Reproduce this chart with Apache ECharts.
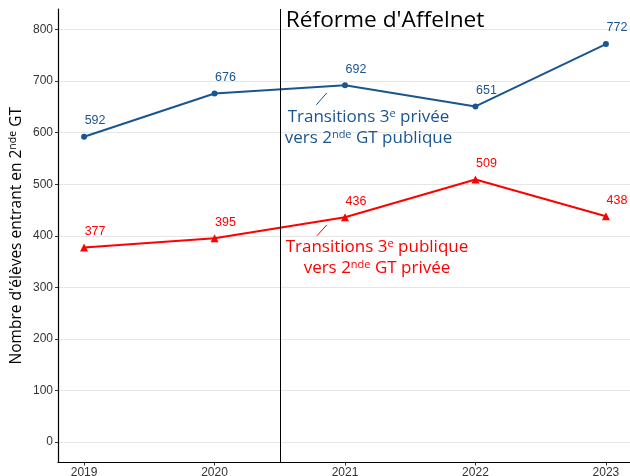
<!DOCTYPE html>
<html>
<head>
<meta charset="utf-8">
<script src="https://cdn.jsdelivr.net/npm/echarts@6/dist/echarts.min.js"></script>
<style>
  html, body { margin: 0; padding: 0; background: #ffffff; }
  #chart { width: 630px; height: 476px; }
</style>
</head>
<body>
<div id="chart"></div>
<script>
// Années observées
const years = [2019, 2020, 2021, 2022, 2023];
// Transitions 3e privée -> 2nde GT publique
const priveeVersPublique = [592, 676, 692, 651, 772];
// Transitions 3e publique -> 2nde GT privée
const publiqueVersPrivee = [377, 395, 436, 509, 438];
// Graduations de l'axe vertical
const yTicks = [0, 100, 200, 300, 400, 500, 600, 700, 800];
// Date de la réforme d'Affelnet (entre 2020 et 2021)
const reformeX = 2020.5;

const BLUE = '#1b5590';
const RED = '#ff0000';
const TEXT_FONT = '"Open Sans", "Noto Sans", sans-serif';
const NUM_FONT = '"Liberation Sans", Arial, sans-serif';

const chart = echarts.init(document.getElementById('chart'), null, { renderer: 'canvas' });

function pairs(values) {
  return years.map((y, i) => [y, values[i]]);
}

const supRich = {
  n: { fontFamily: TEXT_FONT, fontSize: 17, lineHeight: 21 },
  s: { fontFamily: TEXT_FONT, fontSize: 11, lineHeight: 21, padding: [0, 0, 8, 0] }
};

const option = {
  animation: false,
  backgroundColor: '#ffffff',
  grid: {
    left: 58, top: 9, width: 574, height: 453.5,
    containLabel: false,
    outerBoundsMode: 'none'
  },
  xAxis: {
    type: 'value',
    min: 2018.8,
    max: 2023.2,
    axisLine: { show: true, onZero: false, lineStyle: { color: '#000', width: 1.2 } },
    axisTick: { show: true, length: 3, lineStyle: { color: '#333' }, customValues: years },
    axisLabel: {
      customValues: years,
      margin: 4,
      color: '#333',
      fontSize: 12,
      fontFamily: NUM_FONT,
      formatter: v => String(v)
    },
    splitLine: { show: false }
  },
  yAxis: {
    type: 'value',
    min: -40,
    max: 840,
    name: '{n|Nombre d\'élèves entrant en 2}{s|nde}{n| GT}',
    nameLocation: 'middle',
    nameRotate: 90,
    nameGap: 31,
    nameMoveOverlap: false,
    nameTextStyle: {
      color: '#000',
      fontFamily: TEXT_FONT,
      fontSize: 15.5,
      rich: {
        n: { fontFamily: TEXT_FONT, fontSize: 15.5, color: '#000', lineHeight: 20 },
        s: { fontFamily: TEXT_FONT, fontSize: 10.5, color: '#000', lineHeight: 20, padding: [0, 0, 8, 0] }
      }
    },
    axisLine: { show: true, onZero: false, lineStyle: { color: '#000', width: 1.2 } },
    axisTick: { show: true, length: 3, lineStyle: { color: '#333' }, customValues: yTicks },
    axisLabel: {
      customValues: yTicks,
      margin: 5,
      color: '#333',
      fontSize: 12,
      fontFamily: NUM_FONT
    },
    splitLine: { show: true, lineStyle: { color: '#e6e6e6', width: 1, type: 'solid' } }
  },
  series: [
    {
      name: 'Transitions 3e privée vers 2nde GT publique',
      type: 'line',
      data: pairs(priveeVersPublique),
      color: BLUE,
      symbol: 'circle',
      symbolSize: 6,
      lineStyle: { color: BLUE, width: 2 },
      itemStyle: { color: BLUE },
      label: {
        show: true,
        position: 'inside',
        offset: [11, -16],
        color: BLUE,
        fontSize: 12.5,
        fontFamily: NUM_FONT
      },
      markLine: {
        silent: true,
        symbol: 'none',
        label: { show: false },
        lineStyle: { color: '#000', width: 1, type: 'solid' },
        data: [{ xAxis: reformeX }]
      }
    },
    {
      name: 'Transitions 3e publique vers 2nde GT privée',
      type: 'line',
      data: pairs(publiqueVersPrivee),
      color: RED,
      symbol: 'triangle',
      symbolSize: 8,
      lineStyle: { color: RED, width: 2 },
      itemStyle: { color: RED },
      label: {
        show: true,
        position: 'inside',
        offset: [11, -16],
        color: RED,
        fontSize: 12.5,
        fontFamily: NUM_FONT
      }
    }
  ]
};

chart.setOption(option);

// Annotations placées en coordonnées de données
function px(x, y) { return chart.convertToPixel({ gridIndex: 0 }, [x, y]); }

const titrePos = px(reformeX, 818);
const bleuTexte = px(2021.18, 609);
const rougeTexte = px(2021.245, 357);
const bleuTrait = [px(2020.78, 654), px(2020.86, 677)];
const rougeTrait = [px(2020.785, 400), px(2020.86, 421)];

chart.setOption({
  graphic: [
    {
      type: 'text',
      x: titrePos[0] + 6,
      y: titrePos[1],
      style: {
        text: 'Réforme d\'Affelnet',
        fontFamily: TEXT_FONT,
        fontSize: 22.7,
        fill: '#000',
        verticalAlign: 'middle',
        align: 'left'
      }
    },
    {
      type: 'line',
      shape: { x1: bleuTrait[0][0], y1: bleuTrait[0][1], x2: bleuTrait[1][0], y2: bleuTrait[1][1] },
      style: { stroke: BLUE, lineWidth: 1 }
    },
    {
      type: 'line',
      shape: { x1: rougeTrait[0][0], y1: rougeTrait[0][1], x2: rougeTrait[1][0], y2: rougeTrait[1][1] },
      style: { stroke: RED, lineWidth: 1 }
    },
    {
      type: 'text',
      x: bleuTexte[0],
      y: bleuTexte[1],
      style: {
        text: '{n|Transitions 3}{s|e}{n| privée}\n{n|vers 2}{s|nde}{n| GT publique}',
        rich: supRich,
        fill: BLUE,
        align: 'center',
        verticalAlign: 'middle'
      }
    },
    {
      type: 'text',
      x: rougeTexte[0],
      y: rougeTexte[1],
      style: {
        text: '{n|Transitions 3}{s|e}{n| publique}\n{n|vers 2}{s|nde}{n| GT privée}',
        rich: supRich,
        fill: RED,
        align: 'center',
        verticalAlign: 'middle'
      }
    }
  ]
});
</script>
</body>
</html>
